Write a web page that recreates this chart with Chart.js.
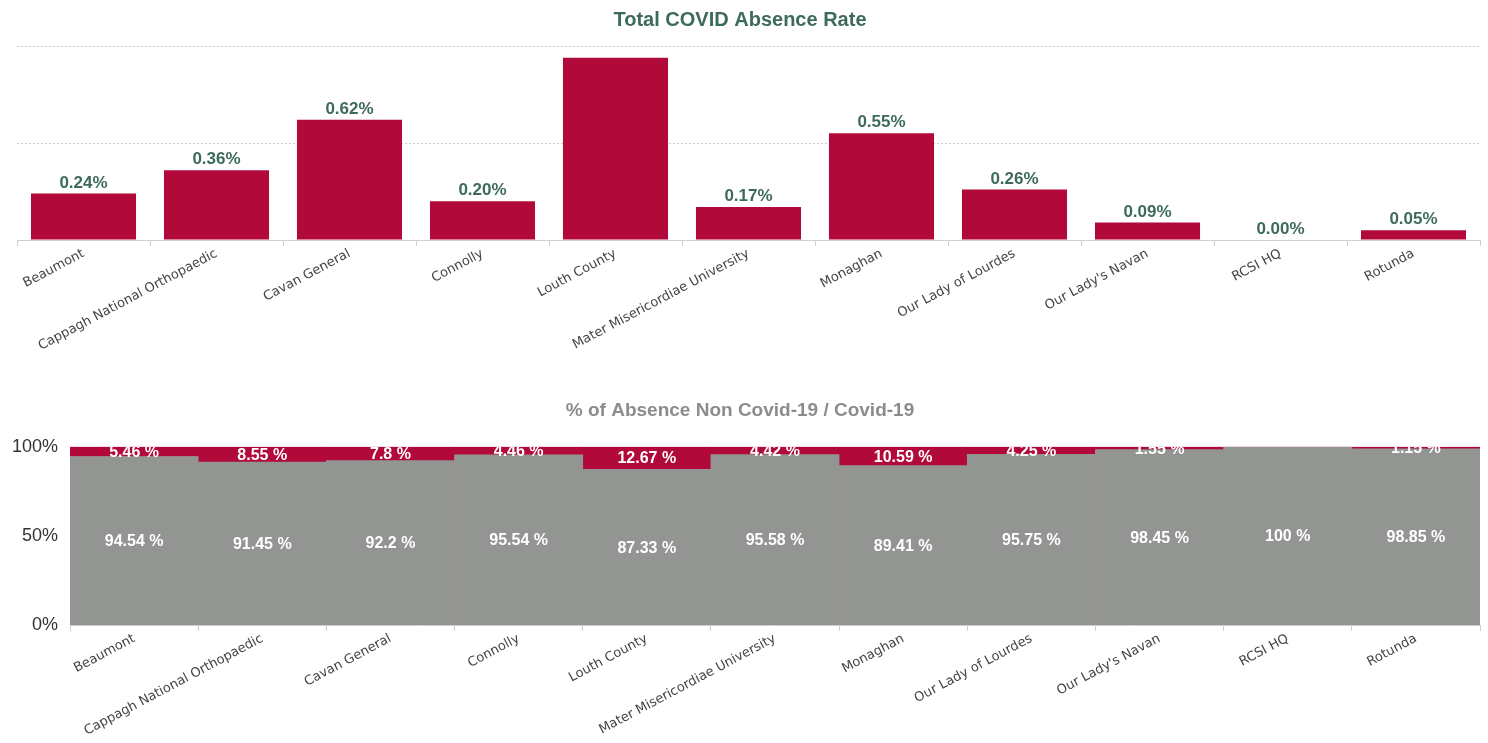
<!DOCTYPE html>
<html>
<head>
<meta charset="utf-8">
<script src="https://cdn.jsdelivr.net/npm/chart.js@4.4.1/dist/chart.umd.min.js"></script>
<style>
  body { margin: 0; background: #fff; }
  #top { position: absolute; left: 0; top: 0; width: 1488px; height: 385px; }
  #bottom { position: absolute; left: 0; top: 385px; width: 1488px; height: 358px; }
</style>
</head>
<body>
<div id="top"><canvas id="rateChart"></canvas></div>
<div id="bottom"><canvas id="shareChart"></canvas></div>
<script>
const hospitals = ['Beaumont', 'Cappagh National Orthopaedic', 'Cavan General', 'Connolly', 'Louth County',
  'Mater Misericordiae University', 'Monaghan', 'Our Lady of Lourdes', "Our Lady's Navan", 'RCSI HQ', 'Rotunda'];
const covidRate = [0.24, 0.36, 0.62, 0.20, 0.94, 0.17, 0.55, 0.26, 0.09, 0.00, 0.05];
const nonCovidShare = [94.54, 91.45, 92.2, 95.54, 87.33, 95.58, 89.41, 95.75, 98.45, 100, 98.85];
const covidShare = [5.46, 8.55, 7.8, 4.46, 12.67, 4.42, 10.59, 4.25, 1.55, 0, 1.15];
const rateTicks = [0, 0.5, 1];
const shareTicks = [0, 50, 100];

const RED = '#b10939';
const GREY = '#939592';
const SANS = '"Liberation Sans", Arial, sans-serif';
const TICK_FONT = { family: '"DejaVu Sans", Verdana, sans-serif', size: 13 };

// value labels drawn above the bars or in the middle of each segment
const valueLabels = {
  id: 'valueLabels',
  afterDatasetsDraw(chart, args, opts) {
    const ctx = chart.ctx;
    const area = chart.chartArea;
    ctx.save();
    if (opts.position === 'center') {
      ctx.beginPath();
      ctx.rect(area.left, area.top, area.right - area.left, area.bottom - area.top);
      ctx.clip();
    }
    ctx.font = opts.font;
    ctx.fillStyle = opts.color;
    ctx.textAlign = 'center';
    chart.data.datasets.forEach((ds, di) => {
      const meta = chart.getDatasetMeta(di);
      meta.data.forEach((bar, i) => {
        const text = opts.format(ds.data[i]);
        if (text === null) return;
        if (opts.position === 'top') {
          const y = bar.y - 2;
          if (y - 16 < area.top) return; // no room above the bar
          ctx.textBaseline = 'bottom';
          ctx.fillText(text, bar.x, y);
        } else {
          ctx.textBaseline = 'middle';
          ctx.fillText(text, bar.x, (bar.y + bar.base) / 2 + 1);
        }
      });
    });
    ctx.restore();
  }
};

new Chart(document.getElementById('rateChart'), {
  type: 'bar',
  data: {
    labels: hospitals,
    datasets: [{
      label: 'Total COVID Absence Rate',
      data: covidRate,
      backgroundColor: RED,
      barPercentage: 0.79,
      categoryPercentage: 1
    }]
  },
  options: {
    responsive: true,
    maintainAspectRatio: false,
    animation: false,
    layout: { padding: { right: 8 } },
    plugins: {
      legend: { display: false },
      tooltip: { enabled: false },
      title: {
        display: true,
        text: 'Total COVID Absence Rate',
        color: '#3d6b5a',
        font: { family: SANS, size: 20, weight: 'bold' },
        padding: { top: 8, bottom: 14 }
      },
      valueLabels: {
        position: 'top',
        color: '#3d6b5a',
        font: 'bold 17px ' + SANS,
        format: v => v.toFixed(2) + '%'
      }
    },
    scales: {
      x: {
        grid: { offset: true, drawOnChartArea: false, tickLength: 6, color: '#cfcfcf' },
        border: { color: '#cfcfcf' },
        ticks: { color: '#444', font: TICK_FONT, minRotation: 28, maxRotation: 28, padding: 0 },
        afterFit(scale) { scale.height = 145; }
      },
      y: {
        min: 0,
        max: 1,
        afterBuildTicks(scale) { scale.ticks = rateTicks.map(v => ({ value: v })); },
        ticks: { display: false },
        grid: { color: '#cccccc', drawTicks: false },
        border: { display: false, dash: [2, 2] },
        afterFit(scale) { scale.width = 17; }
      }
    }
  },
  plugins: [valueLabels]
});

new Chart(document.getElementById('shareChart'), {
  type: 'bar',
  data: {
    labels: hospitals,
    datasets: [
      { label: 'Non Covid-19', data: nonCovidShare, backgroundColor: GREY, barPercentage: 1, categoryPercentage: 1 },
      { label: 'Covid-19', data: covidShare, backgroundColor: RED, barPercentage: 1, categoryPercentage: 1 }
    ]
  },
  options: {
    responsive: true,
    maintainAspectRatio: false,
    animation: false,
    layout: { padding: { right: 8 } },
    plugins: {
      legend: { display: false },
      tooltip: { enabled: false },
      title: {
        display: true,
        text: '% of Absence Non Covid-19 / Covid-19',
        color: '#8c8c8c',
        font: { family: SANS, size: 19, weight: 'bold' },
        padding: { top: 14, bottom: 25 }
      },
      valueLabels: {
        position: 'center',
        color: '#ffffff',
        font: 'bold 16px ' + SANS,
        format: v => (v === 0 ? null : v + ' %')
      }
    },
    scales: {
      x: {
        stacked: true,
        grid: { offset: true, drawOnChartArea: false, tickLength: 6, color: '#cfcfcf' },
        border: { color: '#cfcfcf' },
        ticks: { color: '#444', font: TICK_FONT, minRotation: 28, maxRotation: 28, padding: 0 },
        afterFit(scale) { scale.height = 118; }
      },
      y: {
        stacked: true,
        min: 0,
        max: 100,
        afterBuildTicks(scale) { scale.ticks = shareTicks.map(v => ({ value: v })); },
        ticks: { color: '#333', font: { family: SANS, size: 18 }, padding: 12, callback: v => v + '%' },
        grid: { display: false, drawTicks: false },
        border: { display: false },
        afterFit(scale) { scale.width = 70; }
      }
    }
  },
  plugins: [valueLabels]
});
</script>
</body>
</html>
